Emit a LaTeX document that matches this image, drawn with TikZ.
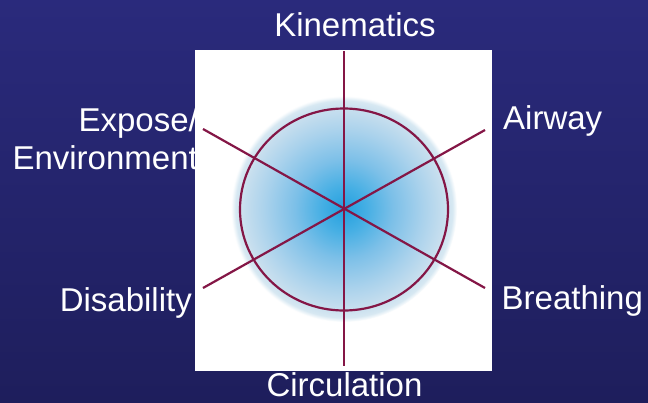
\documentclass[tikz,border=0pt]{standalone}
\usepackage{fontspec}
\setmainfont{Liberation Sans}
\definecolor{bgtop}{RGB}{42,42,124}
\definecolor{bgmid}{RGB}{51,51,150}
\definecolor{bgbot}{RGB}{30,30,92}
\definecolor{spoke}{RGB}{132,22,70}
\definecolor{bA}{RGB}{35,160,222}
\definecolor{bB}{RGB}{70,175,228}
\definecolor{bC}{RGB}{125,192,232}
\definecolor{bD}{RGB}{170,210,236}
\definecolor{bE}{RGB}{198,222,238}
\definecolor{bF}{RGB}{215,232,242}
\pgfdeclareradialshading{blob}{\pgfpoint{0bp}{0bp}}{color(0bp)=(bA); color(5bp)=(bB); color(11bp)=(bC); color(17.5bp)=(bD); color(22bp)=(bE); color(24bp)=(bF); color(25bp)=(white); color(50bp)=(white)}
\tikzset{
  lbl/.style={text=white, inner sep=0pt, font=\fontsize{33}{38}\selectfont},
  spokeline/.style={draw=spoke, line width=2.2pt},
}
\begin{document}
\begin{tikzpicture}[x=1pt,y=-1pt]
\useasboundingbox (0,0) rectangle (648,402);
\shade[top color=bgtop, middle color=bgmid, bottom color=bgbot] (0,0) rectangle (648,402);
% labels partly under the white panel
\node[lbl, anchor=base east] (expose) at (198,131) {Expose/};
\node[lbl, anchor=base east] (env) at (198,169) {Environment};
\node[lbl, anchor=base east] (dis) at (192,311.5) {Disability};
% white panel
\fill[white] (195,50) rectangle (492,371);
% blob
\shade[shading=blob] (344,209) circle (113);
% circle
\draw[spokeline] (344,209.5) ellipse (104 and 101);
% spokes
\coordinate (c) at (344,209);
\coordinate (top) at (344,51);
\coordinate (bot) at (344,366);
\coordinate (ul) at (203,129);
\coordinate (lr) at (485,288);
\coordinate (ur) at (485,130);
\coordinate (ll) at (203,288);
\draw[spokeline] (top) -- (bot);
\draw[spokeline] (ul) -- (lr);
\draw[spokeline] (ur) -- (ll);
% other labels
\node[lbl, anchor=base] (kin) at (355,36.7) {Kinematics};
\node[lbl, anchor=base west] (air) at (503,129.3) {Airway};
\node[lbl, anchor=base west] (brea) at (501.5,309.3) {Breathing};
\node[lbl, anchor=base] (circ) at (344.5,396.5) {Circulation};
\end{tikzpicture}
\end{document}
